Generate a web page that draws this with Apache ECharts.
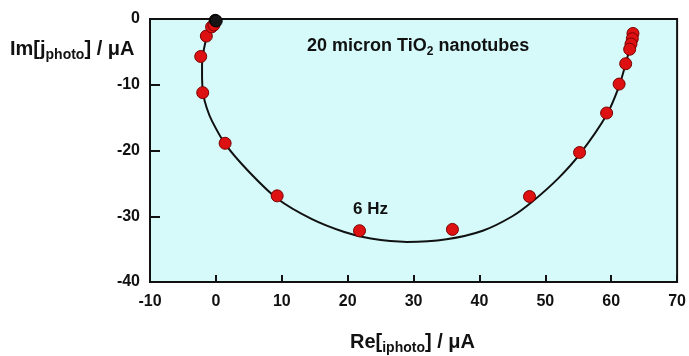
<!DOCTYPE html>
<html>
<head>
<meta charset="utf-8">
<script src="https://cdn.jsdelivr.net/npm/echarts@6/dist/echarts.min.js"></script>
<style>
  html, body { margin: 0; padding: 0; background: #fff; }
  #chart { width: 689px; height: 356px; }
</style>
</head>
<body>
<div id="chart"></div>
<script>
// Measured photocurrent points (Re, Im) in µA, high to low frequency
var measuredRe = [63.3, 63.2, 63.0, 62.8, 62.2, 61.2, 59.3, 55.2, 47.6, 35.9, 21.8, 9.3, 1.4, -2.0, -2.3, -1.45, -0.65, -0.3];
var measuredIm = [-2.2, -3.0, -3.8, -4.6, -6.8, -9.9, -14.3, -20.3, -27.0, -32.0, -32.2, -26.9, -18.9, -11.2, -5.7, -2.6, -1.2, -0.9];

// Lowest-frequency points, drawn in black
var originRe = [0.0, -0.1, 0.05];
var originIm = [0.1, -0.2, -0.3];

// Fitted response curve
var fitRe = [0, -0.6, -1.3, -1.8, -2.1, -2.1, -1.9, -1.4, -0.6, 1.4, 4.8, 9.3, 14.5, 19.5, 23.5, 29, 35, 40.5, 45, 48, 52, 55.2, 59.3, 61.2, 62.2, 62.9, 63.3];
var fitIm = [0, -1, -2.5, -4.5, -7, -9, -11.5, -13.5, -15.5, -19, -23, -27.3, -30.4, -32.4, -33.4, -33.9, -33.5, -32.2, -30, -27.8, -24.2, -20.6, -14.6, -10.2, -6.8, -4, -1.4];

// Axis ranges and annotation
var xMin = -10, xMax = 70, xStep = 10;
var yMin = -40, yMax = 0, yStep = 10;
var freqLabel = { re: 21.8, im: -32.2, text: '6 Hz' };

function zip(a, b) { return a.map(function (v, i) { return [v, b[i]]; }); }

var chart = echarts.init(document.getElementById('chart'));
var FONT = '"Liberation Sans", Arial, sans-serif';

chart.setOption({
  animation: false,
  grid: {
    left: 150, right: 9, top: 19, bottom: 74,
    show: true,
    backgroundColor: '#d6fafa',
    borderColor: '#111',
    borderWidth: 2
  },
  xAxis: {
    type: 'value',
    min: xMin, max: xMax, interval: xStep,
    axisLine: { show: true, onZero: false, lineStyle: { color: '#111', width: 2 } },
    axisTick: { show: true, inside: true, length: 7, lineStyle: { color: '#111', width: 2 } },
    axisLabel: { color: '#111', fontFamily: FONT, fontWeight: 'bold', fontSize: 16, margin: 12 },
    splitLine: { show: false }
  },
  yAxis: {
    type: 'value',
    min: yMin, max: yMax, interval: yStep,
    axisLine: { show: true, onZero: false, lineStyle: { color: '#111', width: 2 } },
    axisTick: { show: true, inside: true, length: 10, lineStyle: { color: '#111', width: 2 } },
    axisLabel: { color: '#111', fontFamily: FONT, fontWeight: 'bold', fontSize: 16, margin: 10 },
    splitLine: { show: false }
  },
  series: [
    {
      type: 'line',
      data: zip(fitRe, fitIm),
      smooth: 0.25,
      showSymbol: false,
      lineStyle: { color: '#111', width: 2 },
      z: 2,
      silent: true
    },
    {
      type: 'scatter',
      data: zip(measuredRe, measuredIm),
      symbolSize: 12,
      itemStyle: { color: '#dd1111', borderColor: '#7a0000', borderWidth: 1, opacity: 1 },
      z: 3
    },
    {
      type: 'scatter',
      data: zip(originRe, originIm),
      symbolSize: 12,
      itemStyle: { color: '#151515', borderColor: '#000', borderWidth: 1, opacity: 1 },
      z: 4
    }
  ],
  graphic: [
    {
      type: 'text',
      left: 307, top: 37,
      style: {
        text: '{b|20 micron TiO}{s|2}{b| nanotubes}',
        rich: {
          b: { fontFamily: FONT, fontWeight: 'bold', fontSize: 18, fill: '#111' },
          s: { fontFamily: FONT, fontWeight: 'bold', fontSize: 12, fill: '#111', padding: [11, 0, 0, 0] }
        }
      }
    },
    {
      type: 'text',
      left: 353, top: 201,
      style: {
        text: freqLabel.text,
        fontFamily: FONT, fontWeight: 'bold', fontSize: 17, fill: '#111'
      }
    },
    {
      type: 'text',
      left: 10, top: 39,
      style: {
        text: '{b|Im[j}{s|photo}{b|] / μA}',
        rich: {
          b: { fontFamily: FONT, fontWeight: 'bold', fontSize: 20, fill: '#111' },
          s: { fontFamily: FONT, fontWeight: 'bold', fontSize: 14, fill: '#111', padding: [13, 0, 0, 0] }
        }
      }
    },
    {
      type: 'text',
      left: 350, top: 332,
      style: {
        text: '{b|Re[}{s|iphoto}{b|] / μA}',
        rich: {
          b: { fontFamily: FONT, fontWeight: 'bold', fontSize: 20, fill: '#111' },
          s: { fontFamily: FONT, fontWeight: 'bold', fontSize: 14, fill: '#111', padding: [13, 0, 0, 0] }
        }
      }
    }
  ]
});
</script>
</body>
</html>
